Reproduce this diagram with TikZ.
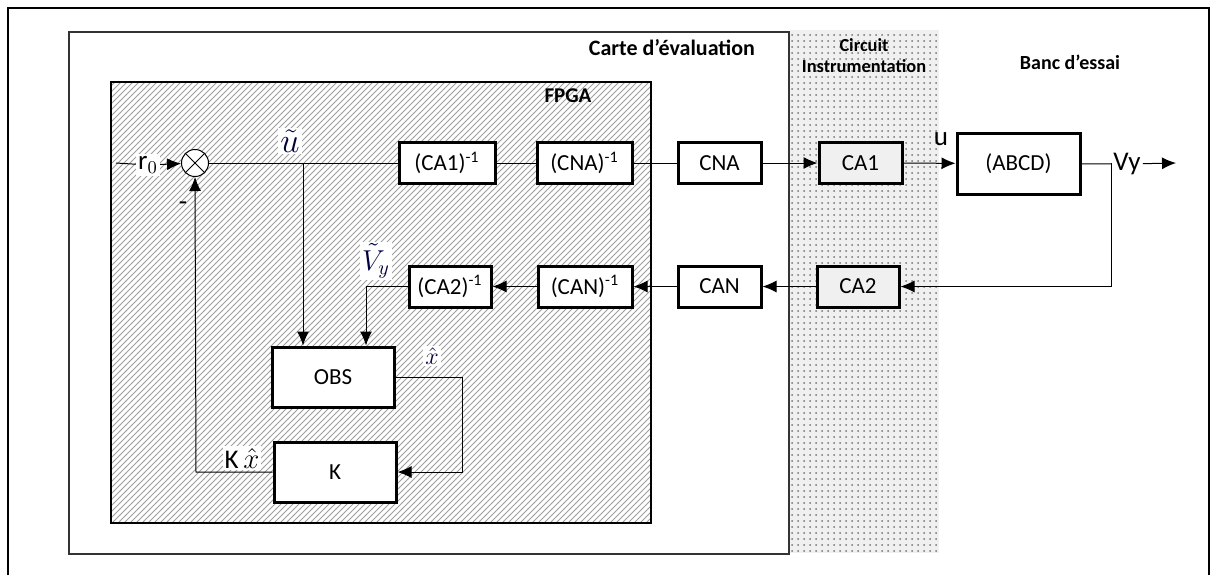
\documentclass[tikz,border=0pt]{standalone}
\usepackage{fontspec}
\setmainfont{Carlito}
\usetikzlibrary{arrows.meta, positioning, patterns}

\begin{document}
\begin{tikzpicture}[
          x=0.5pt, y=-0.5pt,
          font=\fontsize{11.5}{13}\selectfont,
          box/.style={draw, line width=1.5pt, minimum width=41.5pt, minimum height=20.5pt, align=center, fill=white, inner sep=1pt},
          graybox/.style={box, fill=gray!12},
          lbl/.style={fill=white, inner sep=1pt, font=\fontsize{13.5}{15}\selectfont},
          mlbl/.style={fill=white, inner sep=1pt, text=blue!25!black},
          title/.style={font=\fontsize{11}{12}\selectfont\bfseries, align=center},
          subtitle/.style={font=\fontsize{9.2}{10.5}\selectfont\bfseries, align=center},
          arrow/.style={-{Latex[length=7pt, width=6pt]}, line width=0.5pt},
          line/.style={line width=0.5pt}
        ]
          \useasboundingbox (0,0) rectangle (1210,575);
          % frames
          \draw[line width=1pt] (8,575) -- (8,8) -- (1209,8) -- (1209,575);
          \fill[gray!12] (790,30) rectangle (939,553);
          \fill[pattern=dots, pattern color=gray!90!black] (790,30) rectangle (939,553);
          \draw[line width=1pt, gray!40!black] (69,32) rectangle (789,554);
          \fill[white] (111,82) rectangle (651,523);
          \draw[line width=1.2pt, pattern=north east lines, pattern color=gray!75] (111,82) rectangle (651,523);
          \node[title, anchor=east] (carte) at (762,48) {Carte d’évaluation};
          \node[subtitle] (circ) at (864,56) {Circuit\\Instrumentation};
          \node[subtitle, font=\fontsize{10}{11}\selectfont\bfseries] (banc) at (1070,62) {Banc d’essai};
          \node[subtitle, font=\fontsize{10.5}{11}\selectfont\bfseries] (fpga) at (568,96) {FPGA};
          % forward path
          \node[draw, circle, fill=white, minimum size=13.5pt, inner sep=0pt, line width=0.5pt] (sum) at (195,163) {};
          \draw[line] (sum.north west) -- (sum.south east) (sum.north east) -- (sum.south west);
          \coordinate (in) at (116,163);
          \node[lbl] (r0) at (148,165) {r$_0$};
          \node[box, minimum width=48pt] (ica1) at (447,163) {(CA1)\textsuperscript{-1}};
          \node[box, minimum width=47.5pt] (icna) at (584.5,163) {(CNA)\textsuperscript{-1}};
          \node[box] (cna) at (719.5,163) {CNA};
          \node[graybox] (ca1) at (860.5,163) {CA1};
          \node[box, minimum width=61.5pt, minimum height=30.5pt] (abcd) at (1018.5,163.5) {(ABCD)};
          \node[inner sep=1pt, font=\fontsize{13.5}{15}\selectfont] (vy) at (1127,164) {Vy};
          \coordinate (out) at (1176,163);
          \coordinate (br) at (1111,163);
          \coordinate (tap) at (303,163);
          % return path
          \node[graybox, minimum width=41pt] (ca2) at (858,286.5) {CA2};
          \node[box] (can) at (719.5,286.5) {CAN};
          \node[box, minimum width=47pt] (ican) at (585,286.5) {(CAN)\textsuperscript{-1}};
          \node[box, minimum width=41pt] (ica2) at (450,286.5) {(CA2)\textsuperscript{-1}};
          \coordinate (vin) at (366,286.5);
          \node[box, minimum width=61pt, minimum height=30pt] (obs) at (333,377) {OBS};
          \node[box, minimum width=61pt, minimum height=30pt] (k) at (335,472) {K};
          \coordinate (xr) at (462,377);
          \coordinate (kl) at (196,472);
          % connectors
          \draw[line] (in) -- (r0);
          \draw[arrow] (r0) -- (sum);
          \draw[line] (sum) -- (ica1);
          \draw[line] (ica1) -- (icna);
          \draw[line] (icna) -- (cna);
          \draw[arrow] (cna) -- (ca1);
          \draw[arrow] (ca1) -- (abcd);
          \draw[line] (abcd) -- (vy);
          \draw[arrow] (vy) -- (out);
          \draw[arrow] (br) |- (ca2);
          \draw[arrow] (ca2) -- (can);
          \draw[arrow] (can) -- (ican);
          \draw[arrow] (ican) -- (ica2);
          \draw[arrow] (ica2.west) -- (vin) -- (vin |- obs.north);
          \draw[arrow] (tap) -- (tap |- obs.north);
          \draw[arrow] (obs.east) -- (xr) |- (k.east);
          \draw[arrow] (k.west) -- (kl) -- (sum.south);
          % labels
          \node[mlbl, font=\fontsize{17}{19}\selectfont] (ut) at (290,141) {$\tilde{u}$};
          \node[mlbl, font=\fontsize{14}{16}\selectfont] (vyt) at (376,261) {$\tilde{V}_{y}$};
          \node[mlbl, font=\fontsize{13}{15}\selectfont] (xh) at (432,356) {$\hat{x}$};
          \node[lbl] (kx) at (242,458) {K\,$\hat{x}$};
          \node[inner sep=0pt, font=\fontsize{13.5}{15}\selectfont] (minus) at (183,206) {-};
          \node[inner sep=1pt, font=\fontsize{13.5}{15}\selectfont] (u) at (941,139) {u};
        \end{tikzpicture}
\end{document}
